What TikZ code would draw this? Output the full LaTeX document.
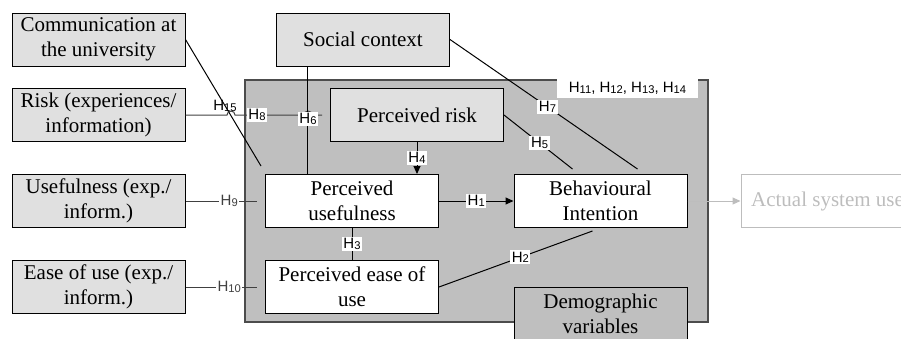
\documentclass[tikz,border=0pt]{standalone}
\usepackage{fontspec}
\setmainfont{Liberation Serif}
\newfontfamily\hypfont{Liberation Sans}
\usetikzlibrary{arrows.meta}
\definecolor{extgray}{gray}{0.88}
\definecolor{modelgray}{gray}{0.75}
\definecolor{fadegray}{gray}{0.74}
\newcommand{\hyp}[1]{H{\fontsize{5.6}{6}\selectfont\raisebox{-0.4pt}{#1}}}

\begin{document}
\begin{tikzpicture}[x=0.5pt, y=-0.5pt,
	box/.style={draw, line width=0.5pt, minimum width=86.5pt, minimum height=26.5pt, align=center, inner sep=1pt, font=\fontsize{10.5}{12.5}\selectfont},
	extbox/.style={box, fill=extgray},
	innerbox/.style={box, fill=white},
	link/.style={line width=0.5pt},
	hlabel/.style={fill=white, inner sep=0.8pt, font=\hypfont\fontsize{7.5}{8}\selectfont},
	tip/.style={-{Triangle[length=4pt, width=3.5pt]}}]
						\useasboundingbox (0,0) rectangle (901,338);
						\clip (0,0) rectangle (901,338);
						
						\draw[fill=modelgray, draw=black!70, line width=0.8pt] (245,80) rectangle (708,322);
						\node[fill=white, minimum width=70.5pt, minimum height=10pt, inner sep=0pt, font=\hypfont\fontsize{7.5}{8}\selectfont] (hgroup) at (627.5,88) {\hyp{11}, \hyp{12}, \hyp{13}, \hyp{14}};
						
						\node[extbox] (comm) at (98.5,39.5) {Communication at\\the university};
						\node[extbox] (riskinfo) at (98.5,115) {Risk (experiences/\\information)};
						\node[extbox] (usefinfo) at (98.5,201) {Usefulness (exp./\\inform.)};
						\node[extbox] (easeinfo) at (98.5,287) {Ease of use (exp./\\inform.)};
						\node[extbox] (social) at (363,39.5) {Social context};
						\node[extbox] (prisk) at (417,115) {Perceived risk};
						\node[innerbox] (pu) at (352,201) {Perceived\\usefulness};
						\node[innerbox] (peou) at (352,287) {Perceived ease of\\use};
						\node[innerbox] (bi) at (600.5,201) {Behavioural\\Intention};
						\node[box, fill=modelgray] (demo) at (600.5,314) {Demographic\\variables};
						\node[box, draw=fadegray, text=fadegray] (asu) at (827.5,201) {Actual system use};
						
						\draw[link] (comm.east) -- ([shift={(-2pt,4pt)}]pu.north west);
						\draw[link, black!75] (riskinfo.east) -- (227,115) arc[start angle=180, end angle=0, radius=2pt]
							-- (304,115) arc[start angle=180, end angle=0, radius=2pt] -- ([xshift=-4pt]prisk.west);
						\node[hlabel, fill=none] (h15) at (225,106) {\hyp{15}};
						\node[hlabel] (h8) at (257,115) {\hyp{8}};
						\draw[link] ([xshift=15.5pt]social.south west) coordinate (s6) -- (s6 |- pu.north);
						\node[hlabel] (h6) at (308,119) {\hyp{6}};
						
						\draw[link, tip] (prisk.south) -- (prisk.south |- pu.north) node[midway, hlabel] {\hyp{4}};
						\draw[link] (prisk.east) -- ([shift={(29.5pt,2.5pt)}]bi.north west) node[pos=0.52, hlabel] {\hyp{5}};
						\draw[link] (social.east) -- ([shift={(62pt,2.5pt)}]bi.north west) node[pos=0.52, hlabel] {\hyp{7}};
						\draw[link, tip] (pu.east) -- (bi.west) node[midway, hlabel] {\hyp{1}};
						\draw[link] (peou.east) -- ([shift={(39.5pt,-1.5pt)}]bi.south west) node[pos=0.53, hlabel] {\hyp{2}};
						\draw[link] (pu.south) -- (peou.north) node[midway, hlabel] {\hyp{3}};
						\draw[link, black!75, shorten >=4pt] (usefinfo.east) -- (pu.west) node[pos=0.55, hlabel] {\hyp{9}};
						\draw[link, black!75, shorten >=4pt] (easeinfo.east) -- (peou.west) node[pos=0.55, hlabel] {\hyp{10}};
						\draw[link, fadegray, tip] (bi.east) -- (asu.west);
					\end{tikzpicture}
\end{document}
